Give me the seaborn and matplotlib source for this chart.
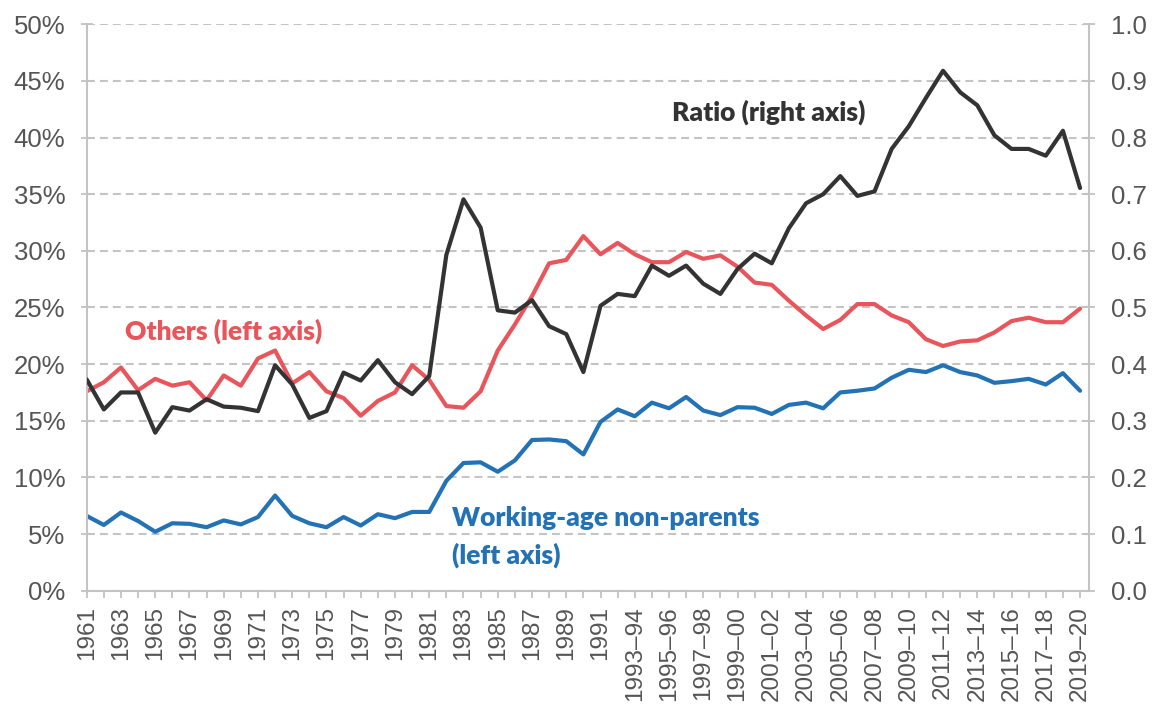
import matplotlib
matplotlib.use("Agg")
import matplotlib.pyplot as plt
from matplotlib.ticker import FuncFormatter, MultipleLocator
import numpy as np
import pandas as pd
import seaborn as sns

periods = [
    "1961", "1962", "1963", "1964", "1965", "1966", "1967", "1968", "1969", "1970",
    "1971", "1972", "1973", "1974", "1975", "1976", "1977", "1978", "1979", "1980",
    "1981", "1982", "1983", "1984", "1985", "1986", "1987", "1988", "1989", "1990",
    "1991", "1992",
    "1993–94", "1994–95", "1995–96", "1996–97", "1997–98", "1998–99", "1999–00",
    "2000–01", "2001–02", "2002–03", "2003–04", "2004–05", "2005–06", "2006–07",
    "2007–08", "2008–09", "2009–10", "2010–11", "2011–12", "2012–13", "2013–14",
    "2014–15", "2015–16", "2016–17", "2017–18", "2018–19", "2019–20",
]

others = [17.6, 18.4, 19.7, 17.7, 18.7, 18.1, 18.4, 16.8, 19.0, 18.1,
          20.5, 21.2, 18.3, 19.3, 17.6, 17.0, 15.45, 16.75, 17.5, 19.9,
          18.6, 16.3, 16.15, 17.6, 21.2, 23.5, 26.0, 28.9, 29.2, 31.3,
          29.7, 30.7,
          29.7, 29.0, 29.0, 29.9, 29.3, 29.6, 28.6, 27.2, 27.0, 25.6,
          24.3, 23.1, 23.9, 25.3, 25.3, 24.3, 23.7, 22.2, 21.6, 22.0,
          22.1, 22.8, 23.8, 24.1, 23.7, 23.7, 24.9]

non_parents = [6.6, 5.8, 6.9, 6.15, 5.2, 5.95, 5.9, 5.6, 6.2, 5.85,
               6.5, 8.4, 6.6, 5.95, 5.6, 6.5, 5.75, 6.75, 6.4, 6.95,
               6.95, 9.7, 11.27, 11.33, 10.5, 11.5, 13.3, 13.35, 13.2, 12.03,
               14.9, 16.0,
               15.4, 16.6, 16.1, 17.1, 15.9, 15.5, 16.2, 16.15, 15.6, 16.4,
               16.6, 16.1, 17.5, 17.65, 17.85, 18.8, 19.5, 19.3, 19.9, 19.3,
               19.0, 18.35, 18.5, 18.7, 18.2, 19.2, 17.65]

ratio = [0.373, 0.32, 0.35, 0.35, 0.279, 0.324, 0.318, 0.338, 0.325, 0.323,
         0.317, 0.398, 0.364, 0.305, 0.317, 0.385, 0.371, 0.407, 0.368, 0.347,
         0.379, 0.593, 0.691, 0.641, 0.495, 0.491, 0.513, 0.467, 0.453, 0.386,
         0.503, 0.524,
         0.52, 0.574, 0.556, 0.574, 0.542, 0.524, 0.568, 0.595, 0.578, 0.640,
         0.684, 0.700, 0.732, 0.697, 0.705, 0.780, 0.82, 0.87, 0.918, 0.88,
         0.857, 0.804, 0.780, 0.780, 0.768, 0.812, 0.711]

RED = "#E8555A"
BLUE = "#2372B5"
DARK = "#333333"
GRID = "#c4c4c4"
SPINE = "#c3c3c3"
TXT = "#555555"

sns.set_theme(style="white")
plt.rcParams["font.family"] = ["Liberation Sans", "DejaVu Sans"]

df = pd.DataFrame({"pos": np.arange(len(periods)), "period": periods,
                   "others": others, "non_parents": non_parents, "ratio": ratio})

fig = plt.figure(figsize=(11.56, 7.09), dpi=100)
ax = fig.add_axes([0.075, 0.1669, 0.8673, 0.7988])

sns.lineplot(data=df, x="pos", y="non_parents", ax=ax, color=BLUE, linewidth=3)
sns.lineplot(data=df, x="pos", y="others", ax=ax, color=RED, linewidth=3)
ax2 = ax.twinx()
sns.lineplot(data=df, x="pos", y="ratio", ax=ax2, color=DARK, linewidth=3)

ax.set_xlim(0, 58.54)
ax.set_ylim(0, 50)
ax2.set_ylim(0, 1.0)
ax.set_xlabel("")
ax.set_ylabel("")
ax2.set_ylabel("")

ax.yaxis.set_major_locator(MultipleLocator(5))
ax.yaxis.set_major_formatter(FuncFormatter(lambda v, p: f"{int(round(v))}%"))
ax2.yaxis.set_major_locator(MultipleLocator(0.1))
ax2.yaxis.set_major_formatter(FuncFormatter(lambda v, p: f"{v:.1f}"))

ax.set_xticks(df["pos"])
ax.set_xticklabels([p if i % 2 == 0 else "" for i, p in enumerate(periods)],
                   rotation=90)

ax.yaxis.grid(True, linestyle=(0, (3.8, 2.4)), color=GRID, linewidth=1.5)
ax.xaxis.grid(False)
ax.set_axisbelow(True)

for a in (ax, ax2):
    for s in a.spines.values():
        s.set_visible(False)
ax.spines["left"].set_visible(True)
ax.spines["bottom"].set_visible(True)
ax2.spines["right"].set_visible(True)
for s in (ax.spines["left"], ax.spines["bottom"], ax2.spines["right"]):
    s.set_color(SPINE)
    s.set_linewidth(1.5)

ax.tick_params(axis="y", direction="inout", length=9, width=1.3, color=SPINE,
               labelsize=18.5, labelcolor=TXT, pad=11, left=True)
ax2.tick_params(axis="y", direction="inout", length=9, width=1.3, color=SPINE,
                labelsize=18.5, labelcolor=TXT, pad=11, right=True)
ax.tick_params(axis="x", direction="out", length=5, width=1.3, color=SPINE,
               labelsize=17.5, labelcolor=TXT, pad=6, bottom=True)

ann = dict(fontsize=19, fontweight="heavy", family=["Lato", "DejaVu Sans"])
ax.text(2.24, 22.9, "Others (left axis)", color=RED, va="center", ha="left", **ann)
ax.text(34.17, 42.2, "Ratio (right axis)", color=DARK, va="center", ha="left", **ann)
ax.text(21.33, 6.4, "Working-age non-parents", color=BLUE, va="center", ha="left", **ann)
ax.text(21.33, 3.15, "(left axis)", color=BLUE, va="center", ha="left", **ann)

fig.savefig("out.png", dpi=100)
